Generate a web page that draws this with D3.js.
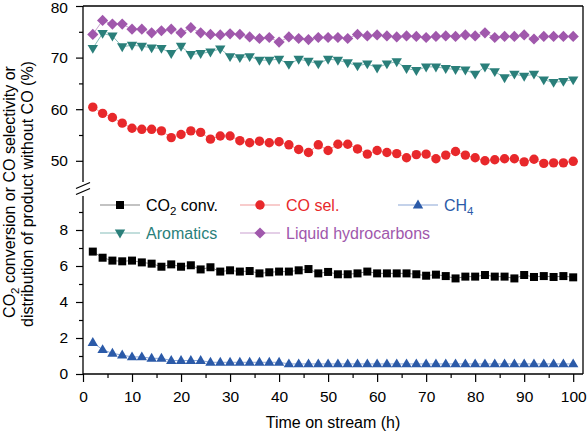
<!DOCTYPE html>
<html><head><meta charset="utf-8">
<script src="https://cdn.jsdelivr.net/npm/d3@7"></script>
<style>
body{margin:0;background:#fff;}
svg{display:block;font-family:"Liberation Sans",Arial,Helvetica,sans-serif;}
</style></head>
<body><svg id="c" width="587" height="433"></svg>
<script>
const hours = [2,4,6,8,10,12,14,16,18,20,22,24,26,28,30,32,34,36,38,40,42,44,46,48,50,52,54,56,58,60,62,64,66,68,70,72,74,76,78,80,82,84,86,88,90,92,94,96,98,100];
const co2Conv = [6.80,6.46,6.30,6.26,6.30,6.20,6.13,5.96,6.09,5.96,6.04,5.81,5.93,5.69,5.76,5.69,5.72,5.59,5.65,5.69,5.69,5.76,5.83,5.59,5.67,5.54,5.54,5.59,5.69,5.59,5.59,5.59,5.59,5.54,5.46,5.52,5.44,5.31,5.41,5.41,5.50,5.41,5.41,5.31,5.50,5.39,5.44,5.39,5.44,5.37];
const coSel = [60.4,59.2,58.4,57.3,56.3,56.1,56.1,55.8,54.5,55.1,55.8,55.5,54.2,54.8,54.8,53.9,53.5,53.8,53.5,53.7,53.1,52.2,51.6,53.1,52.0,53.2,53.2,52.3,51.3,52.0,51.6,51.4,50.6,51.2,51.3,50.4,51.1,51.8,51.1,50.6,50.0,50.2,50.4,50.4,49.8,50.3,49.5,49.6,49.6,49.9];
const ch4 = [1.75,1.35,1.15,1.05,0.95,0.95,0.87,0.87,0.75,0.75,0.75,0.75,0.65,0.65,0.65,0.65,0.65,0.65,0.65,0.65,0.56,0.56,0.56,0.56,0.56,0.56,0.56,0.56,0.56,0.56,0.56,0.56,0.56,0.56,0.56,0.56,0.56,0.56,0.56,0.56,0.56,0.56,0.56,0.56,0.56,0.56,0.56,0.56,0.56,0.56];
const aromatics = [71.8,74.7,74.2,72.1,72.4,72.2,71.9,71.8,70.8,72.2,70.6,70.8,71.1,71.7,70.2,70.0,70.2,69.5,69.5,69.7,68.7,69.7,69.3,68.8,69.7,69.5,69.0,68.4,68.8,68.0,68.8,69.2,67.9,67.5,68.2,68.2,67.9,67.7,67.6,66.8,68.2,67.3,66.1,66.8,66.4,66.8,65.7,65.2,65.4,65.7];
const liquid = [74.5,77.2,76.5,76.5,75.5,75.5,74.8,75.2,75.5,74.8,75.8,74.8,74.5,74.4,74.6,74.5,74.0,73.7,73.9,73.0,74.0,73.7,73.5,73.9,73.9,73.9,73.7,74.5,74.2,74.4,74.2,74.0,74.2,74.1,73.9,74.1,74.2,74.1,74.4,74.2,74.8,73.9,74.1,74.1,74.4,73.6,74.1,74.1,74.1,74.1];

const xTicks = [0,10,20,30,40,50,60,70,80,90,100];
const xMinor = [5,15,25,35,45,55,65,75,85,95];
const yUpperTicks = [50,60,70,80];
const yUpperMinor = [55,65,75];
const yLowerTicks = [0,2,4,6,8];
const yLowerMinor = [1,3,5,7,9];

const svg = d3.select("#c");
const L = 83, R = 583, T = 6, B = 374;
const x = d3.scaleLinear().domain([0,102]).range([L,R]);
const yU = d3.scaleLinear().domain([45,80]).range([186.6,T]);
const yL = d3.scaleLinear().domain([0,10]).range([B,194]);

const series = [
  {name:"co2", vals:co2Conv, y:yL, color:"#000000", line:"#888888", shape:"square"},
  {name:"co", vals:coSel, y:yU, color:"#e8282b", line:"#f29a9a", shape:"circle"},
  {name:"ch4", vals:ch4, y:yL, color:"#2b5aa8", line:"#8aa6d6", shape:"triUp"},
  {name:"aro", vals:aromatics, y:yU, color:"#2a7f7a", line:"#86bdb9", shape:"triDown"},
  {name:"liq", vals:liquid, y:yU, color:"#a058ac", line:"#c9a0d0", shape:"diamond"}
];

function marker(g, shape, color){
  let p;
  if(shape==="square") p = g.append("rect").attr("x",-4).attr("y",-4).attr("width",8).attr("height",8);
  else if(shape==="circle") p = g.append("circle").attr("r",4.7);
  else if(shape==="triUp") p = g.append("path").attr("d","M0,-5.5L5.2,3.4L-5.2,3.4Z");
  else if(shape==="triDown") p = g.append("path").attr("d","M0,5.5L5.2,-3.4L-5.2,-3.4Z");
  else p = g.append("path").attr("d","M0,-5.6L5.6,0L0,5.6L-5.6,0Z");
  p.attr("fill",color);
}

// frame top and right
svg.append("line").attr("x1",L).attr("x2",R).attr("y1",T).attr("y2",T).attr("stroke","#000").attr("stroke-width",1.3);
svg.append("line").attr("x1",R).attr("x2",R).attr("y1",T).attr("y2",B).attr("stroke","#000").attr("stroke-width",1.3);

// x axis
const gx = svg.append("g").attr("transform",`translate(0,${B})`);
gx.call(d3.axisBottom(x).tickValues(xTicks).tickSize(8).tickPadding(9).tickFormat(d3.format("d")));
gx.append("g").call(d3.axisBottom(x).tickValues(xMinor).tickSize(4).tickFormat(""));
gx.selectAll(".domain").remove();
svg.append("line").attr("x1",L).attr("x2",R).attr("y1",B).attr("y2",B).attr("stroke","#000").attr("stroke-width",1.3);

// y axes
function yAxis(scale, major, minor){
  const g = svg.append("g").attr("transform",`translate(${L},0)`);
  g.call(d3.axisLeft(scale).tickValues(major).tickSize(7).tickPadding(8).tickFormat(d3.format("d")));
  g.append("g").call(d3.axisLeft(scale).tickValues(minor).tickSize(4).tickFormat(""));
  g.selectAll(".domain").remove();
  return g;
}
const gU = yAxis(yU, yUpperTicks, yUpperMinor);
yAxis(yL, yLowerTicks, yLowerMinor);
svg.append("line").attr("x1",L).attr("x2",L).attr("y1",T).attr("y2",182).attr("stroke","#000").attr("stroke-width",1.3);
svg.append("line").attr("x1",L).attr("x2",L).attr("y1",196).attr("y2",B).attr("stroke","#000").attr("stroke-width",1.3);
svg.append("line").attr("x1",76).attr("x2",90).attr("y1",188.5).attr("y2",182.5).attr("stroke","#000").attr("stroke-width",1.3);
svg.append("line").attr("x1",76).attr("x2",90).attr("y1",194.5).attr("y2",188.5).attr("stroke","#000").attr("stroke-width",1.3);

svg.selectAll(".tick text").attr("font-size",15.5).attr("fill","#000").attr("font-family","Liberation Sans, Arial, sans-serif");
svg.selectAll(".tick line").attr("stroke","#000").attr("stroke-width",1.2);
gU.selectAll(".tick").filter(d=>d===80).select("text").attr("y",1.5);

// series
series.forEach(s=>{
  const line = d3.line().x((d,i)=>x(hours[i])).y(d=>s.y(d));
  svg.append("path").datum(s.vals).attr("d",line).attr("fill","none").attr("stroke",s.line).attr("stroke-width",1);
});
series.forEach(s=>{
  s.vals.forEach((v,i)=>{
    const g = svg.append("g").attr("transform",`translate(${x(hours[i])},${s.y(v)})`);
    marker(g, s.shape, s.color);
  });
});

// legend
const legend = [
  {label:["CO","2"," conv."], s:series[0], lx:100, ly:205},
  {label:["CO sel."], s:series[1], lx:240, ly:205},
  {label:["CH","4",""], s:series[2], lx:398, ly:205},
  {label:["Aromatics"], s:series[3], lx:100, ly:233},
  {label:["Liquid hydrocarbons"], s:series[4], lx:240, ly:233}
];
legend.forEach(l=>{
  svg.append("line").attr("x1",l.lx).attr("x2",l.lx+40).attr("y1",l.ly).attr("y2",l.ly).attr("stroke",l.s.line).attr("stroke-width",1.2);
  const g = svg.append("g").attr("transform",`translate(${l.lx+20},${l.ly})`);
  marker(g, l.s.shape, l.s.color);
  const t = svg.append("text").attr("x",l.lx+46).attr("y",l.ly+6).attr("font-size",16).attr("fill",l.s.color);
  if(l.label.length===1) t.text(l.label[0]);
  else {
    t.append("tspan").text(l.label[0]);
    t.append("tspan").text(l.label[1]).attr("font-size",11.5).attr("dy",4);
    if(l.label[2]) t.append("tspan").text(l.label[2]).attr("dy",-4);
  }
});

// axis titles
svg.append("text").attr("x",(L+R)/2).attr("y",428).attr("text-anchor","middle").attr("font-size",16).attr("fill","#000").text("Time on stream (h)");
const yt = svg.append("text").attr("transform","translate(15,192) rotate(-90)").attr("text-anchor","middle").attr("font-size",16).attr("fill","#000");
yt.append("tspan").text("CO");
yt.append("tspan").text("2").attr("font-size",11.5).attr("dy",4);
yt.append("tspan").text(" conversion or CO selectivity or").attr("dy",-4);
svg.append("text").attr("transform","translate(33,194) rotate(-90)").attr("text-anchor","middle").attr("font-size",16).attr("fill","#000").text("distribution of product without CO (%)");
</script></body></html>
